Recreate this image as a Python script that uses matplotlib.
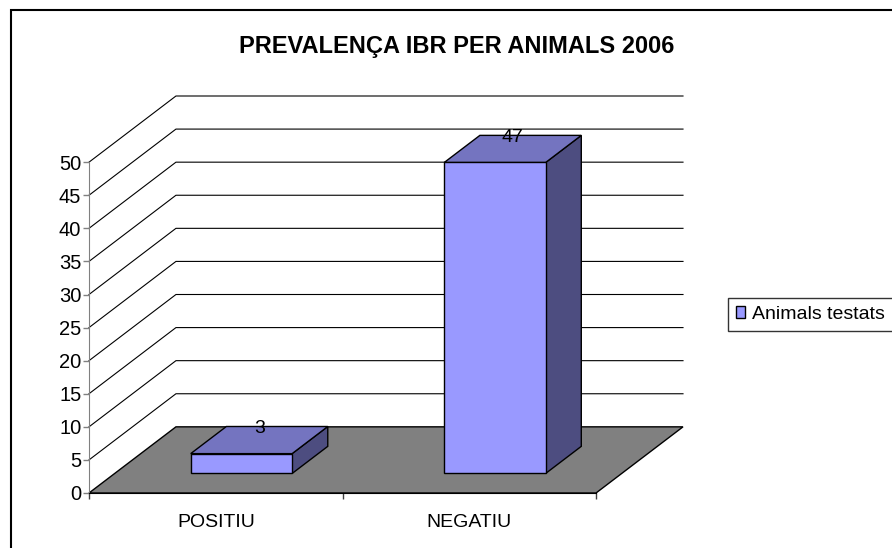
import matplotlib
matplotlib.use('Agg')
import matplotlib.pyplot as plt
from matplotlib.patches import Polygon, Rectangle, Patch

categories = ["POSITIU", "NEGATIU"]
values = [3, 47]
series_name = "Animals testats"
title = "PREVALENÇA IBR PER ANIMALS 2006"
y_ticks = list(range(0, 51, 5))

plt.rcParams['font.family'] = ['Liberation Sans', 'DejaVu Sans']

# 3D look: depth offset in data units, bar width/depth as fractions
DX, DY = 0.343, 10.0
W = 0.4
D0, D1 = 0.295, 0.705
front_c = "#9999FF"
top_c = "#7474C0"
side_c = "#4D4D80"
floor_c = "#808080"

fig = plt.figure(figsize=(8.92, 5.48), dpi=100)
ax = fig.add_axes([89/892, 55/548, 594/892, 397/548])
n = len(categories)
ymax = max(y_ticks)
ax.set_xlim(0, n + DX)
ax.set_ylim(0, ymax + DY)

# floor
ax.add_patch(Polygon([(0, 0), (n, 0), (n + DX, DY), (DX, DY)], closed=True,
                     facecolor=floor_c, edgecolor="black", lw=1, zorder=1, clip_on=False))

# gridlines on the side and back walls
for v in y_ticks[1:]:
    ax.plot([0, DX, n + DX], [v, v + DY, v + DY], color="black", lw=0.8,
            zorder=1.5, clip_on=False)

# bars
for i, v in enumerate(values):
    xl = i + 0.5 - W / 2
    xr = xl + W
    x0, y0 = D0 * DX, D0 * DY
    x1, y1 = D1 * DX, D1 * DY
    front = [(xl + x0, y0), (xr + x0, y0), (xr + x0, y0 + v), (xl + x0, y0 + v)]
    top = [(xl + x0, y0 + v), (xr + x0, y0 + v), (xr + x1, y1 + v), (xl + x1, y1 + v)]
    side = [(xr + x0, y0), (xr + x1, y1), (xr + x1, y1 + v), (xr + x0, y0 + v)]
    for pts, c in [(side, side_c), (top, top_c), (front, front_c)]:
        ax.add_patch(Polygon(pts, closed=True, facecolor=c, edgecolor="black",
                             lw=1, joinstyle="miter", zorder=3, clip_on=False))
    ax.text(i + 0.5 + 0.5 * DX, v + 0.5 * DY + 1.1, str(v), ha="center",
            va="baseline", fontsize=14, zorder=4)

for s in ["top", "right"]:
    ax.spines[s].set_visible(False)
ax.spines["left"].set_bounds(0, ymax)
ax.spines["left"].set_color("#808080")
ax.spines["bottom"].set_bounds(0, n)
ax.spines["bottom"].set_color("black")
ax.set_yticks(y_ticks)
ax.tick_params(axis="y", length=4, width=1, color="#808080", pad=1.5, labelsize=14.5)
ax.set_xticks(range(n + 1))
ax.set_xticklabels([])
ax.set_xticks([i + 0.5 for i in range(n)], minor=True)
ax.set_xticklabels(categories, minor=True, fontsize=14)
ax.tick_params(axis="x", which="major", length=4, width=1, color="#404040")
ax.tick_params(axis="x", which="minor", length=0, pad=15)
ax.patch.set_visible(False)

fig.text(457/892, 1 - 46/548, title, ha="center", va="center",
         fontsize=17, fontweight="bold")

leg = fig.legend(handles=[Patch(facecolor=front_c, edgecolor="black", label=series_name)],
                 loc="upper left", bbox_to_anchor=(728/892, 1 - 298/548),
                 borderaxespad=0, frameon=True, fancybox=False, fontsize=14,
                 handlelength=0.45, handleheight=0.55, handletextpad=0.4,
                 borderpad=0.4)
leg.get_frame().set_edgecolor("black")
leg.get_frame().set_linewidth(1)

# chart area border
fig.add_artist(Rectangle((11/892, -0.1), 1.2, 1.1 - 10/548, transform=fig.transFigure,
                         facecolor="none", edgecolor="black", lw=1.5))

fig.savefig("out.png", dpi=100)
